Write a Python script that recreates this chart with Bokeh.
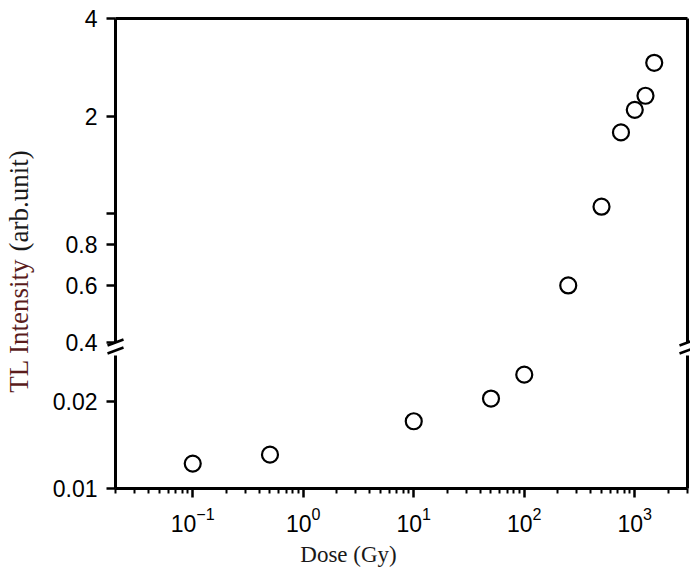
import math
from bokeh.plotting import figure
from bokeh.layouts import row, column
from bokeh.models import FixedTicker, LogAxis, Range1d, ColumnDataSource
from bokeh.core.properties import value
from bokeh.embed import file_html
from bokeh.resources import INLINE

# ---------------- data ----------------
dose = [0.1, 0.5, 10, 50, 100, 250, 500, 750, 1000, 1250, 1500]
intensity = [0.0122, 0.0131, 0.0171, 0.0205, 0.0248, 0.60, 1.05, 1.78, 2.09, 2.31, 2.92]

x_major = [0.1, 1, 10, 100, 1000]
x_minor = [round(m * 10.0 ** e, 6) for e in range(-2, 4) for m in range(2, 10)
           if 0.02 <= m * 10.0 ** e <= 3000]
upper_ticks = [0.4, 0.6, 0.8, 1, 2, 4]
upper_labels = ["0.4", "0.6", "0.8", "", "2", "4"]
lower_ticks = [0.01, 0.02]
lower_labels = ["0.01", "0.02"]

X_RANGE = (0.02, 3000)
UPPER_RANGE = (0.4, 4)
LOWER_RANGE = (0.01, 0.0289)
BREAK = 0.4  # values >= BREAK go to the upper panel

upper_src = ColumnDataSource(dict(x=[d for d, v in zip(dose, intensity) if v >= BREAK],
                                  y=[v for v in intensity if v >= BREAK]))
lower_src = ColumnDataSource(dict(x=[d for d, v in zip(dose, intensity) if v < BREAK],
                                  y=[v for v in intensity if v < BREAK]))

TICK_FONT = "Liberation Sans"
SERIF = "Liberation Serif"
AXIS_W = 3
LEFT_W = 40          # width of the y-title strip
PANEL_W = 650
BORDER_L = 75        # left border of the plot panels
FRAME_W = 572
UP_TOP = 18
UP_FRAME_H = 324
UP_BOTTOM = 13

ppd_x = FRAME_W / math.log10(X_RANGE[1] / X_RANGE[0])
ppd_up = UP_FRAME_H / math.log10(UPPER_RANGE[1] / UPPER_RANGE[0])


def style_axis(ax, ticks=None, labels=None, tick_out=9):
    ax.axis_line_width = AXIS_W
    ax.axis_line_color = "black"
    ax.major_tick_line_width = 2.5
    ax.major_tick_line_color = "black"
    ax.minor_tick_line_color = None
    ax.major_tick_in = 0
    ax.major_tick_out = tick_out
    ax.major_label_text_font = TICK_FONT
    ax.major_label_text_font_size = "23px"
    ax.major_label_text_color = "black"
    ax.major_label_standoff = 9
    if ticks is None:
        ax.ticker = FixedTicker(ticks=[])
        ax.major_tick_out = 0
    else:
        ax.ticker = FixedTicker(ticks=ticks)
        ax.major_label_overrides = {t: l for t, l in zip(ticks, labels)}


def make_fig(height, yr, border_top, border_bottom):
    p = figure(width=PANEL_W, height=height, x_axis_type="log", y_axis_type="log",
               x_range=Range1d(*X_RANGE), y_range=Range1d(*yr),
               output_backend="svg", toolbar_location=None,
               x_axis_location=None, y_axis_location=None,
               min_border_left=BORDER_L, min_border_right=3,
               min_border_top=border_top, min_border_bottom=border_bottom)
    p.outline_line_color = None
    p.grid.grid_line_color = None
    p.background_fill_color = "white"
    p.border_fill_color = "white"
    return p


# ---------------- upper panel ----------------
up = make_fig(UP_TOP + UP_FRAME_H + UP_BOTTOM, UPPER_RANGE, UP_TOP, UP_BOTTOM)
ax = LogAxis(); style_axis(ax, upper_ticks, upper_labels); up.add_layout(ax, "left")
ax = LogAxis(); style_axis(ax); up.add_layout(ax, "above")
ax = LogAxis(); style_axis(ax); up.add_layout(ax, "right")
up.scatter("x", "y", source=upper_src, marker="circle", size=16,
           fill_color="white", line_color="black", line_width=2.2)

# ---------------- lower panel ----------------
lo = make_fig(133 + 50, LOWER_RANGE, 0, 50)
ax = LogAxis(); style_axis(ax, lower_ticks, lower_labels); lo.add_layout(ax, "left")
ax = LogAxis(); style_axis(ax); lo.add_layout(ax, "right")
xa = LogAxis()
style_axis(xa)
xa.ticker = FixedTicker(ticks=x_major, minor_ticks=x_minor)
xa.major_tick_out = 9
xa.minor_tick_out = 5
xa.minor_tick_in = 0
xa.minor_tick_line_color = "black"
xa.minor_tick_line_width = 2
xa.major_label_text_font_size = "23px"
xa.major_label_standoff = 9
lo.add_layout(xa, "below")
lo.scatter("x", "y", source=lower_src, marker="circle", size=16,
           fill_color="white", line_color="black", line_width=2.2)

# ---------------- x-axis title strip (same horizontal scale as the plots) ----------------
xl = figure(width=PANEL_W, height=37, x_axis_type="log",
            x_range=Range1d(*X_RANGE), y_range=Range1d(0, 37),
            output_backend="svg", toolbar_location=None,
            x_axis_location=None, y_axis_location=None,
            min_border_left=BORDER_L, min_border_right=3, min_border_top=0, min_border_bottom=0)
xl.outline_line_color = None
xl.grid.grid_line_color = None
x_title_pos = X_RANGE[0] * 10 ** ((348 - (LEFT_W + BORDER_L)) / ppd_x)
xl.text(x=[x_title_pos], y=[21], text=["Dose (Gy)"], text_align="center", text_baseline="middle",
        text_font=value(SERIF), text_font_size=value("23px"), text_color="#1a1a1a")

# ---------------- transparent overlay with the axis-break marks ----------------
S_TOP, S_BOT = 335, 357          # page rows covered by the overlay
brk_y = UP_TOP + UP_FRAME_H      # page row of the 0.4 level
sx0 = X_RANGE[0] * 10 ** (-BORDER_L / ppd_x)
sx1 = X_RANGE[0] * 10 ** ((PANEL_W - BORDER_L) / ppd_x)
sy1 = UPPER_RANGE[0] * 10 ** ((brk_y - S_TOP) / ppd_up)
sy0 = UPPER_RANGE[0] * 10 ** (-(S_BOT - brk_y) / ppd_up)
strip = figure(width=PANEL_W, height=S_BOT - S_TOP, x_axis_type="log", y_axis_type="log",
               x_range=Range1d(sx0, sx1), y_range=Range1d(sy0, sy1),
               output_backend="svg", toolbar_location=None,
               x_axis_location=None, y_axis_location=None, min_border=0,
               margin=(S_TOP, 0, 0, -PANEL_W))
strip.outline_line_color = None
strip.grid.grid_line_color = None
strip.background_fill_alpha = 0
strip.border_fill_alpha = 0
fx = 10 ** (8 / ppd_x)
fy = 10 ** (3 / ppd_up)
bx0, bx1, by0, by1 = [], [], [], []
for xc in (X_RANGE[0], X_RANGE[1]):
    for dy in (0, -8):
        yc = UPPER_RANGE[0] * 10 ** (dy / ppd_up)
        bx0.append(xc / fx); bx1.append(xc * fx)
        by0.append(yc / fy); by1.append(yc * fy)
strip.segment(x0=bx0, y0=by0, x1=bx1, y1=by1, line_width=2.5, line_color="black")

# ---------------- y-axis title panel ----------------
lab = figure(width=LEFT_W, height=575, x_range=Range1d(0, LEFT_W), y_range=Range1d(0, 575),
             output_backend="svg", toolbar_location=None,
             x_axis_location=None, y_axis_location=None, min_border=0)
lab.outline_line_color = None
lab.grid.grid_line_color = None
lab.text(x=[18], y=[317], text=["TL Intensity"], angle=math.pi / 2,
         text_align="right", text_baseline="middle",
         text_font=value(SERIF), text_font_size=value("27px"), text_color="#5a1c1c")
lab.text(x=[18], y=[324], text=["(arb.unit)"], angle=math.pi / 2,
         text_align="left", text_baseline="middle",
         text_font=value(SERIF), text_font_size=value("27px"), text_color="#1a1a1a")

layout = row(lab, column(up, lo, xl, spacing=0), strip, spacing=0)
open("out.html", "w").write(file_html(layout, INLINE))
